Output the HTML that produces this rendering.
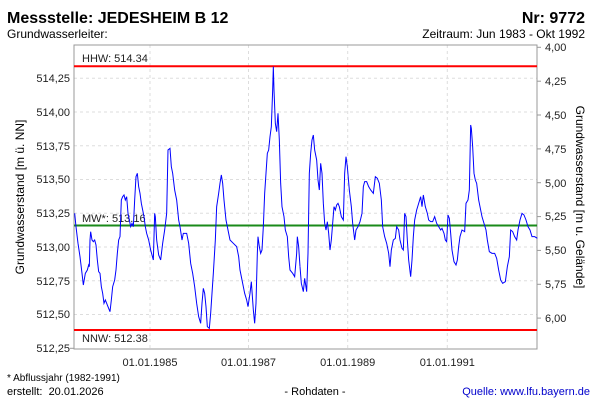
<!DOCTYPE html>
<html><head><style>
body{margin:0;background:#fff;width:600px;height:400px;overflow:hidden;font-family:"Liberation Sans",sans-serif;}
</style></head><body>
<svg width="600" height="400" xmlns="http://www.w3.org/2000/svg" font-family="Liberation Sans, sans-serif">
<text x="7" y="23" font-size="16" font-weight="bold">Messstelle: JEDESHEIM B 12</text>
<text x="585" y="23" font-size="16" font-weight="bold" text-anchor="end">Nr: 9772</text>
<text x="7" y="38" font-size="12">Grundwasserleiter:</text>
<text x="585" y="38" font-size="12" text-anchor="end">Zeitraum: Jun 1983 - Okt 1992</text>
<g stroke="#ddd" stroke-dasharray="3,3" stroke-width="1">
<line x1="74" x2="537" y1="314.5" y2="314.5"/><line x1="74" x2="537" y1="280.8" y2="280.8"/>
<line x1="74" x2="537" y1="247" y2="247"/><line x1="74" x2="537" y1="213.3" y2="213.3"/>
<line x1="74" x2="537" y1="179.5" y2="179.5"/><line x1="74" x2="537" y1="145.8" y2="145.8"/>
<line x1="74" x2="537" y1="112" y2="112"/><line x1="74" x2="537" y1="78.3" y2="78.3"/>
<line x1="150" x2="150" y1="45" y2="349"/><line x1="248.5" x2="248.5" y1="45" y2="349"/>
<line x1="347.7" x2="347.7" y1="45" y2="349"/><line x1="447.3" x2="447.3" y1="45" y2="349"/>
</g>
<rect x="74" y="45" width="463" height="304" fill="none" stroke="#999"/>
<g font-size="11" text-anchor="end" fill="#222">
<text x="70" y="352">512,25</text><text x="70" y="318">512,50</text><text x="70" y="285">512,75</text>
<text x="70" y="251">513,00</text><text x="70" y="217">513,25</text><text x="70" y="183">513,50</text>
<text x="70" y="150">513,75</text><text x="70" y="116">514,00</text><text x="70" y="82">514,25</text>
</g>
<g stroke="#999"><line x1="70" x2="74" y1="348.3" y2="348.3"/><line x1="537" x2="541" y1="47.3" y2="47.3"/><line x1="537" x2="541" y1="81.2" y2="81.2"/><line x1="537" x2="541" y1="115" y2="115"/><line x1="537" x2="541" y1="148.9" y2="148.9"/><line x1="537" x2="541" y1="182.7" y2="182.7"/><line x1="537" x2="541" y1="216.6" y2="216.6"/><line x1="537" x2="541" y1="250.4" y2="250.4"/><line x1="537" x2="541" y1="284.3" y2="284.3"/><line x1="537" x2="541" y1="318.1" y2="318.1"/></g>
<g font-size="11" fill="#222">
<text x="545" y="51">4,00</text><text x="545" y="85">4,25</text><text x="545" y="119">4,50</text>
<text x="545" y="153">4,75</text><text x="545" y="187">5,00</text><text x="545" y="220">5,25</text>
<text x="545" y="254">5,50</text><text x="545" y="288">5,75</text><text x="545" y="322">6,00</text>
</g>
<g font-size="11" text-anchor="middle" fill="#222">
<text x="150" y="366">01.01.1985</text><text x="248.5" y="366">01.01.1987</text>
<text x="347.7" y="366">01.01.1989</text><text x="447.3" y="366">01.01.1991</text>
</g>
<text transform="translate(24,197) rotate(-90)" font-size="12" text-anchor="middle">Grundwasserstand [m ü. NN]</text>
<text transform="translate(576,197) rotate(90)" font-size="12" text-anchor="middle">Grundwasserstand [m u. Gelände]</text>
<line x1="74" x2="537" y1="66.2" y2="66.2" stroke="#f00" stroke-width="2"/>
<line x1="74" x2="537" y1="330" y2="330" stroke="#f00" stroke-width="2"/>
<line x1="74" x2="537" y1="225.5" y2="225.5" stroke="#1a8a1a" stroke-width="2"/>
<g font-size="11" fill="#222"><text x="82" y="62">HHW: 514.34</text><text x="82" y="222">MW*: 513.16</text><text x="82" y="342">NNW: 512.38</text></g>
<g fill="none" stroke="#0000ff" stroke-width="1">
<polyline vector-effect="non-scaling-stroke" transform="translate(0,40) scale(0.33333)" points="224,520 228,560 234,610 240,650 246,700 250,735 256,700 262,690 266,675 268,680 270,600 272,575 276,600 280,605 284,600 288,615 292,660 296,695 300,700 304,740 308,760 312,790 316,780 320,790 324,800 330,815 334,780 338,740 344,720 348,690 352,640 356,600 360,590 364,480 368,470 372,465 376,480 380,470 384,520 388,540 392,560 396,550 400,560 404,480 408,410 412,400 416,440 420,460 424,490 428,510 432,530 436,560 440,580 446,600 452,630 460,660 464,520 466,530 470,600 476,645 482,660 488,610 494,570 500,520 504,330 510,325 514,380 518,400 524,450 530,480 536,540 540,560 546,600 550,580 560,580 566,610 572,670 578,700 584,740 590,790 596,830 602,850 606,790 610,745 614,760 618,800 622,860 628,865 632,820 636,760 640,700 646,600 650,500 656,460 660,430 664,405 668,430 672,480 678,540 684,570 690,600 700,610 710,620 716,650 720,690 726,720 734,760 740,780 744,800 750,760 754,725 760,810 764,850 768,790 772,640 774,590 778,620 782,640 786,630 790,560 794,460 798,400 802,340 806,330 810,290 814,260 818,150 820,80 822,150 826,250 830,275 834,220 838,300 842,430 846,500 852,530 856,570 862,590 866,650 870,690 878,700 884,710 890,640 892,590 896,620 900,680"/>
<polyline vector-effect="non-scaling-stroke" transform="translate(300,40) scale(0.33333)" points="0,680 4,730 10,755 14,715 20,755 24,640 28,400 32,340 36,300 40,285 44,330 50,360 54,420 58,450 62,370 66,400 70,490 74,550 78,570 82,545 86,580 90,630 94,600 98,550 102,500 106,510 110,495 114,490 118,500 124,530 130,540 134,400 138,350 142,380 148,450 154,500 158,550 164,600 168,570 174,560 180,545 186,520 190,440 194,425 200,425 206,440 212,450 220,460 226,410 232,415 238,430 244,480 248,560 254,590 260,610 266,640 270,680 274,630 280,600 286,595 290,560 296,570 300,600 306,625 310,630 314,520 318,530 322,600 326,660 332,710 336,660 340,590 344,540 350,510 356,490 362,470 366,500 370,465 376,500 382,520 386,540 392,545 398,545 404,530 410,550 416,560 422,570 426,565 432,580 436,600 440,605 444,525 448,535 452,580 456,630 462,665 468,675 472,660 476,620 480,590 486,570 494,575 498,490 504,480 508,450 512,255 514,265 518,320 522,400 526,420 530,430 536,480 540,500 546,530 552,550 558,570 562,600 568,635 576,640 584,640 590,655 596,690 602,720 608,730 616,725 622,680 628,650 632,570 638,575 644,590 650,600 654,570 660,540 666,520 672,525 678,540 684,560 690,570 696,590 704,590 712,595"/>
</g>
<text x="7" y="381" font-size="10">* Abflussjahr (1982-1991)</text>
<text x="7" y="395" font-size="11">erstellt:&#160; 20.01.2026</text>
<text x="315" y="395" font-size="11" text-anchor="middle">- Rohdaten -</text>
<text x="590" y="395" font-size="11" text-anchor="end" fill="#0000cc">Quelle: www.lfu.bayern.de</text>
</svg>
</body></html>
